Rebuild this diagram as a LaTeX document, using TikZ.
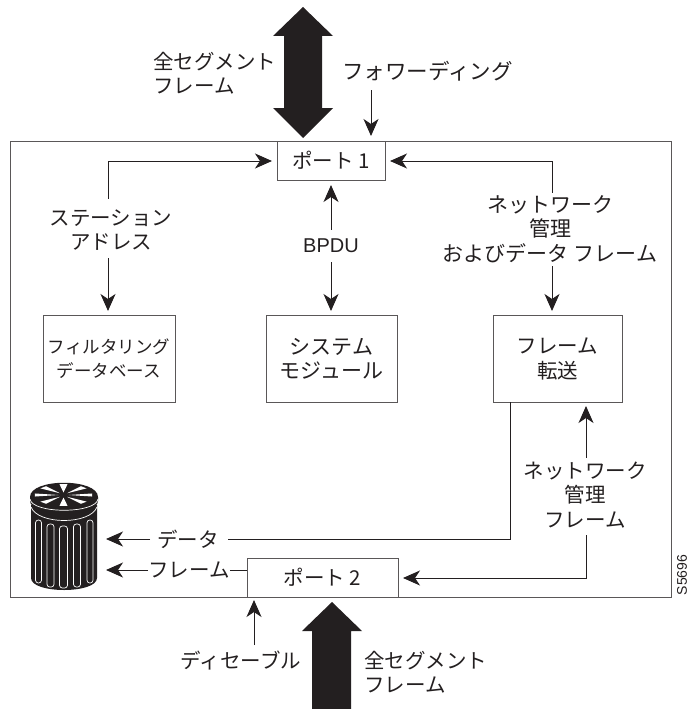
\documentclass[tikz,border=0pt]{standalone}
\usepackage{fontspec}
\setmainfont{Liberation Sans}
\newfontfamily\cjk{Noto Sans CJK JP}
\usetikzlibrary{arrows.meta}
\definecolor{ink}{HTML}{231F20}
\tikzset{
  x=1pt,y=-1pt,
  boxed/.style={draw=ink!75,line width=1pt,fill=white,inner sep=0pt,align=center},
  lab/.style={inner sep=0pt,align=center,text=ink,font=\cjk\fontsize{20.5}{24.5}\selectfont},
  link/.style={draw=ink,line width=1pt},
  arr/.style={link,-{Stealth[length=17pt,width=15pt,inset=5pt]}},
  rarr/.style={link,{Stealth[length=17pt,width=15pt,inset=5pt]}-},
  big/.style={fill=ink,draw=none},
}
\begin{document}
\begin{tikzpicture}
\useasboundingbox (0,0) rectangle (689,709);
\draw[draw=ink!75,line width=1pt] (10,141) rectangle (671,597);

\node[boxed,minimum width=108pt,minimum height=39pt,lab] (p1) at (331,160.5) {ポート 1};
\node[boxed,minimum width=151pt,minimum height=39pt,lab] (p2) at (322.5,577.5) {ポート 2};
\node[boxed,minimum width=132pt,minimum height=87pt,lab,font=\cjk\fontsize{17.5}{24}\selectfont] (fdb) at (109,358.5) {フィルタリング\\データベース};
\node[boxed,minimum width=131pt,minimum height=87pt,lab,font=\cjk\fontsize{21}{24}\selectfont] (sys) at (331.5,358.5) {システム\\モジュール};
\node[boxed,minimum width=129pt,minimum height=87pt,lab,font=\cjk\fontsize{20.5}{25}\selectfont] (fwd) at (557.5,358.5) {フレーム\\転送};

% large arrows
\fill[big] (303,7) -- (333,36) -- (322,36) -- (322,108) -- (333,108) -- (303,138) -- (273,108) -- (284,108) -- (284,36) -- (273,36) -- cycle;
\fill[big] (332,602) -- (362,631) -- (351,631) -- (351,709) -- (312,709) -- (312,631) -- (302,631) -- cycle;

% labels
\node[lab,align=left,anchor=west] (all1) at (153,73) {全セグメント\\フレーム};
\node[lab,anchor=west,font=\cjk\fontsize{21.5}{24.5}\selectfont] (fw) at (342,71) {フォワーディング};
\node[lab] (sta) at (111,230) {ステーション\\アドレス};
\node[lab,font=\fontsize{20}{24}\selectfont] (bpdu) at (331,246) {BPDU};
\node[lab,font=\cjk\fontsize{21}{24.5}\selectfont] (nm1) at (550,229) {ネットワーク\\管理\\およびデータ フレーム};
\node[lab] (nm2) at (585,495) {ネットワーク\\管理\\フレーム};
\node[lab] (dat) at (188,539) {データ};
\node[lab] (frm) at (189,570) {フレーム};
\node[lab] (dis) at (241,661) {ディセーブル};
\node[lab,align=left,anchor=west] (all2) at (364,672) {全セグメント\\フレーム};
\node[text=ink,font=\fontsize{14}{16}\selectfont,rotate=90,inner sep=0pt] (sid) at (682,575) {S5696};

% connectors
\coordinate (fwt) at (371,90);
\coordinate (fwb) at (371,136);
\coordinate (trash) at (106,539);
\coordinate (trash2) at (106,570);
\coordinate (dl) at (228,539);
\coordinate (dr) at (150,539);
\coordinate (dise) at (254,645);
\coordinate (dist) at (254,600);
\coordinate (fwdo) at (510,402);
\draw[arr] (fwt) -- (fwb);
\draw[rarr] (272,161) -- (108,161) -- (108,199);
\draw[arr] (108,258) -- (108,311);
\draw[rarr] (331,185) -- (331,230);
\draw[arr] (331,262) -- (331,311);
\draw[rarr] (390,161) -- (552,161) -- (552,193);
\draw[arr] (552,266) -- (552,311);
\draw[rarr] (586,406) -- (586,458);
\draw[arr] (586,535) -- (586,578) -- (403,578);
\draw[link] (fwdo) -- (510,539) -- (dl);
\draw[arr] (dr) -- (trash);
\draw[link] (frm.east) -- (p2.west |- frm.east);
\draw[arr] (frm.west) -- (trash2);
\draw[arr] (dise) -- (dist);

% trash can
\fill[ink] (31,505) -- (31,578) .. controls (31,594) and (97,594) .. (97,578) -- (97,505) -- cycle;
\fill[ink] (30,497) .. controls (30,478) and (98,478) .. (98,497) -- (98,501) .. controls (98,517) and (30,517) .. (30,501) -- cycle;
\draw[white,line width=.7pt] (30,499) .. controls (32,514) and (96,514) .. (98,499);
\draw[white,line width=.7pt] (31,507) .. controls (38,525) and (90,525) .. (97,507);
\foreach \a in {0,45,...,315}{
  \fill[white] ({63.5+5*cos(\a)},{495+2.5*sin(\a)}) -- ({63.5+29*cos(\a-8)},{495+11*sin(\a-8)}) -- ({63.5+29*cos(\a+8)},{495+11*sin(\a+8)}) -- cycle;
}
\foreach \x/\t/\b/\w in {38.5/520/583/3,50.5/524/587/3.5,63.5/526/588/4,77/524/587/3.5,90/520/583/3}{
  \draw[white,line width=.7pt,rounded corners=2.8pt] (\x-\w,\t) -- (\x-\w,\b) -- (\x+\w,\b) -- (\x+\w,\t) -- cycle;
}
\end{tikzpicture}
\end{document}
